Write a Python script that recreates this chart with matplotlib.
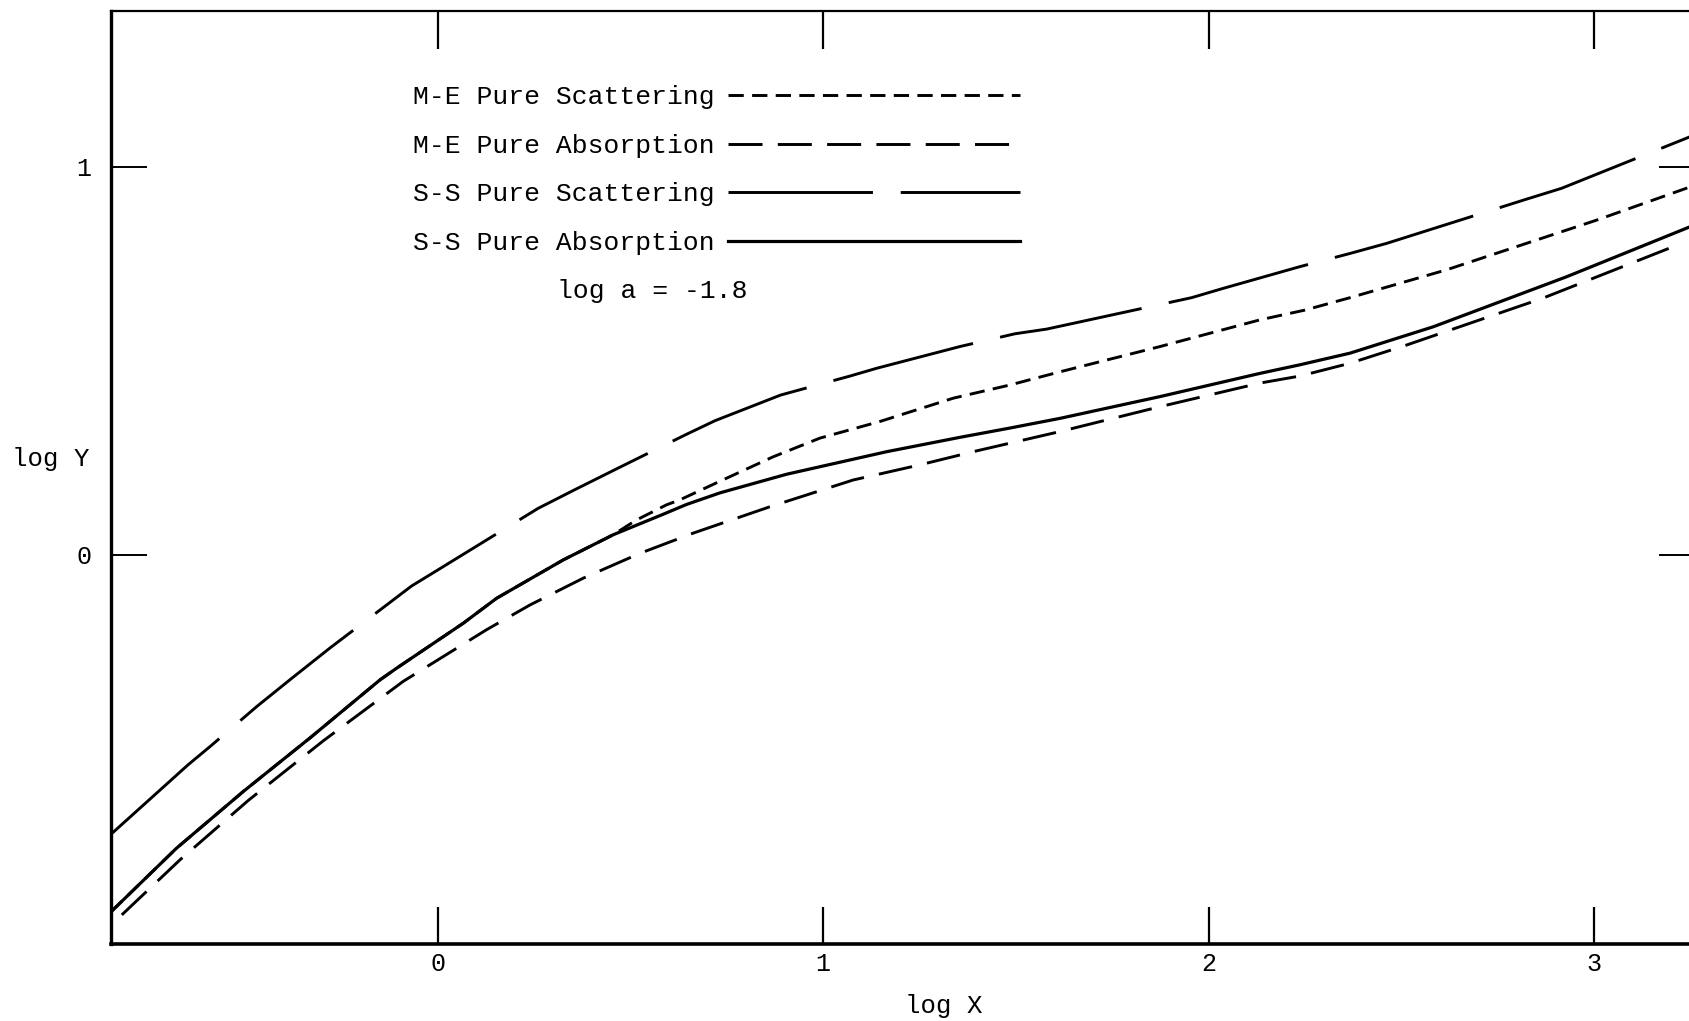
import numpy as np
import matplotlib.pyplot as plt
import matplotlib as mpl

# dash lengths given in points, independent of line width
mpl.rcParams['lines.scale_dashes'] = False
plt.rcParams['font.family'] = ['Liberation Mono', 'DejaVu Sans Mono']

# S-S pure scattering (log X, log Y)
ss_scat_x = [-0.847, -0.647, -0.590, -0.469, -0.378, -0.279, -0.067, -0.011, 0.261,
             0.356, 0.469, 0.642, 0.720, 0.890, 1.070, 1.139, 1.355, 1.498, 1.580,
             1.956, 2.038, 2.237, 2.367, 2.462, 2.825, 2.916, 3.262]
ss_scat_y = [-0.720, -0.541, -0.494, -0.391, -0.318, -0.240, -0.080, -0.046, 0.120,
             0.168, 0.224, 0.309, 0.346, 0.412, 0.461, 0.481, 0.537, 0.570, 0.582,
             0.663, 0.687, 0.743, 0.777, 0.803, 0.917, 0.945, 1.083]

# S-S pure absorption
ss_abs_x = [-0.847, -0.677, -0.504, -0.331, -0.149, -0.106, 0.067, 0.153, 0.326,
            0.456, 0.586, 0.646, 0.733, 0.906, 1.165, 1.355, 1.485, 1.615, 1.874,
            2.134, 2.237, 2.367, 2.583, 2.929, 3.262]
ss_abs_y = [-0.920, -0.756, -0.610, -0.472, -0.322, -0.292, -0.176, -0.112, -0.013,
            0.052, 0.105, 0.130, 0.160, 0.208, 0.266, 0.303, 0.327, 0.352, 0.408,
            0.468, 0.490, 0.520, 0.588, 0.717, 0.851]

# M-E pure scattering, lies on the S-S absorption curve below log X ~ 0.45
me_scat_x = [-0.847, -0.677, -0.504, -0.331, -0.149, -0.106, 0.067, 0.153, 0.326,
             0.456, 0.516, 0.594, 0.629, 0.733, 0.871, 0.992, 1.148, 1.338, 1.485,
             1.615, 1.874, 2.134, 2.250, 2.367, 2.618, 3.007, 3.262]
me_scat_y = [-0.920, -0.756, -0.610, -0.472, -0.322, -0.292, -0.176, -0.112, -0.013,
             0.052, 0.090, 0.129, 0.142, 0.190, 0.253, 0.301, 0.344, 0.404, 0.438,
             0.472, 0.537, 0.606, 0.631, 0.663, 0.735, 0.863, 0.953]

# M-E pure absorption
me_abs_x = [-0.819, -0.668, -0.491, -0.296, -0.089, 0.127, 0.240, 0.378, 0.525,
            0.663, 0.733, 0.862, 1.078, 1.251, 1.398, 1.615, 1.874, 2.134, 2.237,
            2.367, 2.514, 2.868, 3.227]
me_abs_y = [-0.928, -0.786, -0.633, -0.479, -0.326, -0.193, -0.129, -0.060, 0.004,
            0.056, 0.080, 0.124, 0.193, 0.232, 0.268, 0.318, 0.382, 0.443, 0.461,
            0.494, 0.541, 0.662, 0.803]

x_ticks = [0, 1, 2, 3]
y_ticks = [0, 1]

fig = plt.figure(figsize=(16.9, 10.21), dpi=100)
ax = fig.add_axes([111 / 1690, 77 / 1021, 1584 / 1690, 933 / 1021])

lw = 2.1
ax.plot(me_scat_x, me_scat_y, color='black', lw=lw, dashes=(11, 6),
        label='M-E Pure Scattering')
ax.plot(me_abs_x, me_abs_y, color='black', lw=lw, dashes=(24.5, 11),
        label='M-E Pure Absorption')
ax.plot(ss_scat_x, ss_scat_y, color='black', lw=lw, dashes=(104, 20),
        label='S-S Pure Scattering')
ax.plot(ss_abs_x, ss_abs_y, color='black', lw=2.3, label='S-S Pure Absorption')

ax.set_xlim(-0.847, 3.262)
ax.set_ylim(-1.003, 1.402)

ax.set_xticks(x_ticks)
ax.set_yticks(y_ticks)
ax.tick_params(axis='x', direction='in', length=27, width=1.6, top=True,
               labelsize=18, pad=6)
ax.tick_params(axis='y', direction='in', length=26, width=1.4, right=True,
               labelsize=18, pad=14)

for side, w in [('left', 2.4), ('bottom', 2.6), ('top', 1.6), ('right', 1.6)]:
    ax.spines[side].set_linewidth(w)

ax.text(0.526, -0.066, 'log X', transform=ax.transAxes, ha='center', va='center',
        fontsize=18.5)
ax.text(-0.038, 0.52, 'log Y', transform=ax.transAxes, ha='center', va='center',
        fontsize=18.5)

leg = ax.legend(loc='upper left', bbox_to_anchor=(0.1905, 0.9204), frameon=False,
                markerfirst=False, handlelength=11.1, handletextpad=0.5,
                labelspacing=0.93, borderpad=0, borderaxespad=0, fontsize=19)

ax.text(0.2816, 0.70, 'log a = -1.8', transform=ax.transAxes, ha='left',
        va='center', fontsize=19)

fig.savefig('out.png', dpi=100)
